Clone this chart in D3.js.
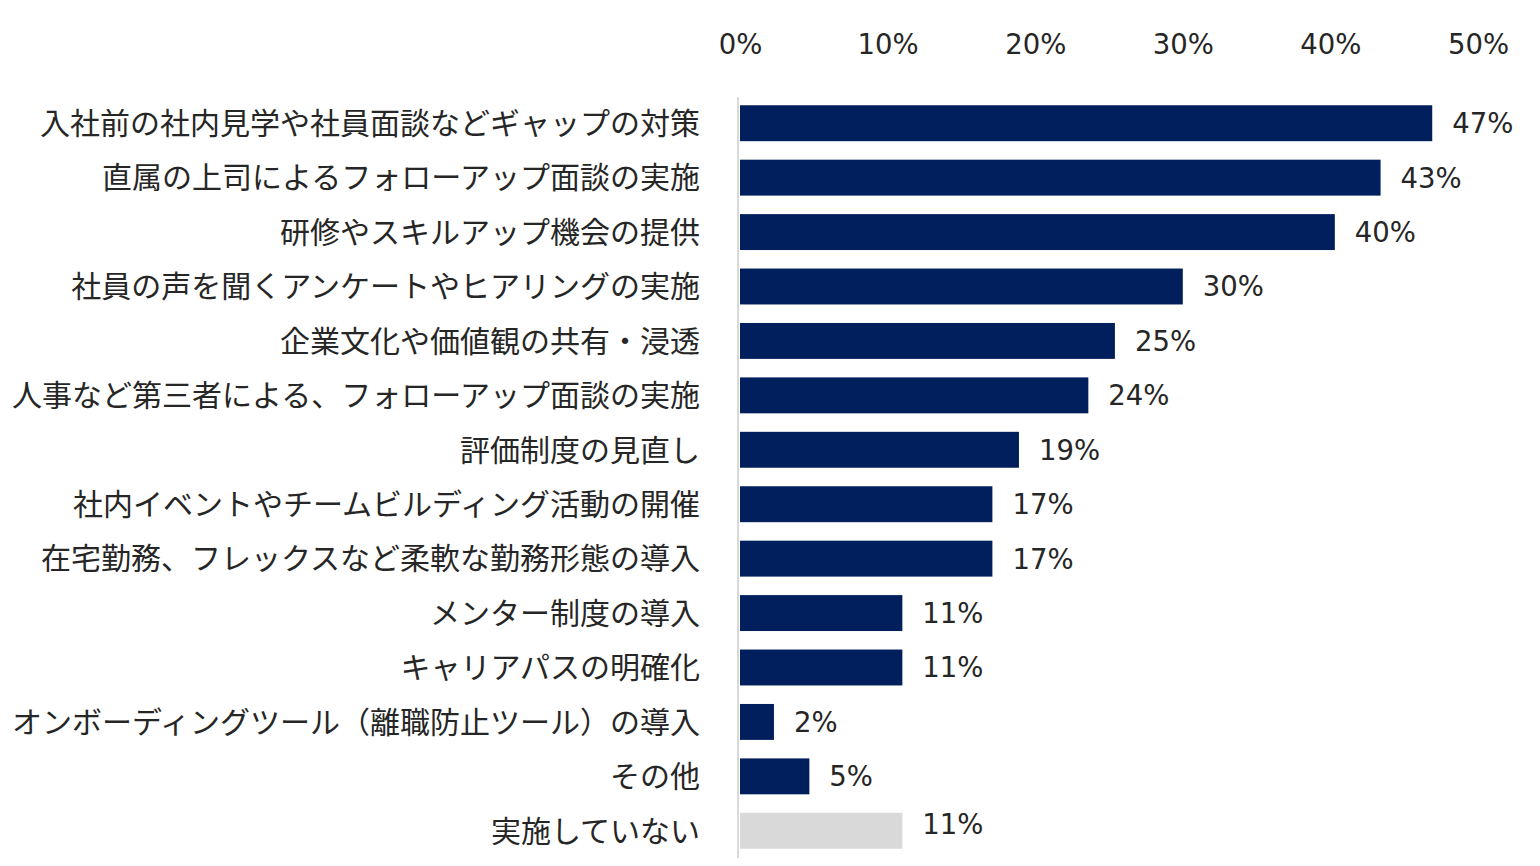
<!DOCTYPE html>
<html>
<head>
<meta charset="utf-8">
<script src="https://cdn.jsdelivr.net/npm/d3@7"></script>
<style>
  body { margin: 0; background: #fff; }
  svg { display: block; }
</style>
</head>
<body>
<svg id="chart" width="1540" height="866"></svg>
<script>
// categories, top to bottom
const categories = [
  "入社前の社内見学や社員面談などギャップの対策",
  "直属の上司によるフォローアップ面談の実施",
  "研修やスキルアップ機会の提供",
  "社員の声を聞くアンケートやヒアリングの実施",
  "企業文化や価値観の共有・浸透",
  "人事など第三者による、フォローアップ面談の実施",
  "評価制度の見直し",
  "社内イベントやチームビルディング活動の開催",
  "在宅勤務、フレックスなど柔軟な勤務形態の導入",
  "メンター制度の導入",
  "キャリアパスの明確化",
  "オンボーディングツール（離職防止ツール）の導入",
  "その他",
  "実施していない"
];
// shares
const values = [0.469, 0.434, 0.403, 0.300, 0.254, 0.236, 0.189, 0.171, 0.171, 0.110, 0.110, 0.023, 0.047, 0.110];
const ticks = [0, 0.1, 0.2, 0.3, 0.4, 0.5];
const greyCat = "実施していない";

const svg = d3.select("#chart");
const fmt = d3.format(".0%");

const x = d3.scaleLinear().domain([0, 0.5]).range([740, 1478]);
const y = d3.scaleBand()
  .domain(categories)
  .range([96, 858])
  .paddingInner(0.34)
  .paddingOuter(0.17);

// top axis, labels only
const xAxis = svg.append("g")
  .attr("transform", "translate(0,54)")
  .call(d3.axisTop(x).tickValues(ticks).tickFormat(fmt).tickSize(0).tickPadding(0));
xAxis.select(".domain").remove();
xAxis.selectAll("text")
  .attr("font-family", "DejaVu Sans, Verdana, sans-serif")
  .attr("font-size", 27.5)
  .attr("fill", "#262626");

// category labels
const yAxis = svg.append("g")
  .attr("transform", "translate(700,0)")
  .call(d3.axisLeft(y).tickSize(0).tickPadding(0));
yAxis.select(".domain").remove();
yAxis.selectAll("text")
  .attr("font-family", "'Noto Sans CJK JP', sans-serif")
  .attr("font-size", 30)
  .attr("fill", "#262626")
  .attr("dy", "0.36em");

// bars
svg.append("g").selectAll("rect")
  .data(categories)
  .join("rect")
    .attr("x", x(0))
    .attr("y", d => y(d))
    .attr("width", (d, i) => x(values[i]) - x(0))
    .attr("height", y.bandwidth())
    .attr("fill", d => d === greyCat ? "#d9d9d9" : "#001f5c");

// baseline
svg.append("line")
  .attr("x1", x(0) - 2).attr("x2", x(0) - 2)
  .attr("y1", 97).attr("y2", 858)
  .attr("stroke", "#d9d9d9")
  .attr("stroke-width", 2);

// value labels
svg.append("g").selectAll("text")
  .data(categories)
  .join("text")
    .attr("x", (d, i) => x(values[i]) + 20)
    .attr("y", d => y(d) + y.bandwidth() / 2 - (d === greyCat ? 7 : 0))
    .attr("dy", "0.36em")
    .attr("font-family", "DejaVu Sans, Verdana, sans-serif")
    .attr("font-size", 27.5)
    .attr("fill", "#262626")
    .text((d, i) => fmt(values[i]));
</script>
</body>
</html>
